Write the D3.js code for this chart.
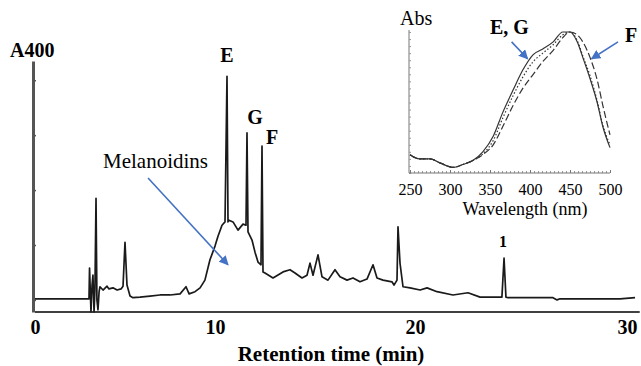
<!DOCTYPE html>
<html>
<head>
<meta charset="utf-8">
<script src="https://cdn.jsdelivr.net/npm/d3@7"></script>
<style>
    body { margin: 0; background: #fff; }
    text { font-family: "Liberation Serif", "Times New Roman", serif; }
</style>
</head>
<body>
<div id="chart"></div>
<script>
// chromatogram, A400 vs retention time (min)
const retentionTime = [0, 3.00, 3.03, 3.11, 3.17, 3.22, 3.28, 3.33, 3.39, 3.44, 3.50, 3.56, 3.61, 3.78, 4.00, 4.11,
    4.33, 4.56, 4.78, 4.89, 5.00, 5.11, 5.28, 5.44, 5.83, 6.39, 6.94, 7.50, 8.06, 8.39, 8.56, 8.89, 9.17, 9.44,
    9.72, 10.00, 10.15, 10.35, 10.50, 10.60, 10.65, 10.70, 10.90, 11.15, 11.40, 11.55, 11.60, 11.65, 11.85, 12.00,
    12.15, 12.30, 12.35, 12.40, 12.50, 12.90, 13.40, 13.75, 14.00, 14.35, 14.60, 14.75, 14.90, 15.15, 15.35, 15.65,
    16.00, 16.25, 16.60, 16.90, 17.25, 17.60, 17.90, 18.10, 18.40, 18.85, 18.95, 19.10, 19.15, 19.25, 19.40, 19.75,
    20.24, 20.57, 21.04, 21.79, 22.50, 23.07, 24.10, 24.20, 24.29, 24.39, 26.51, 26.70, 26.84, 29.67, 30.38];
const a400 = [0.02, 0.02, 0.58, -0.22, 0.27, 0.45, -0.22, 0.18, 1.85, 0.00, -0.18, 0.15, 0.24, 0.18, 0.25, 0.20,
    0.22, 0.18, 0.20, 0.25, 1.05, 0.27, 0.07, 0.04, 0.05, 0.07, 0.09, 0.09, 0.11, 0.24, 0.11, 0.15, 0.22, 0.36,
    0.73, 0.98, 1.16, 1.36, 1.42, 4.07, 1.42, 1.45, 1.42, 1.27, 1.38, 1.36, 3.04, 1.24, 1.09, 0.87,
    0.69, 0.64, 2.80, 0.51, 0.49, 0.40, 0.51, 0.55, 0.49, 0.40, 0.45, 0.67, 0.45, 0.82, 0.42, 0.36,
    0.55, 0.42, 0.36, 0.40, 0.33, 0.38, 0.64, 0.40, 0.36, 0.33, 0.27, 0.36, 1.33, 0.67, 0.24, 0.22,
    0.18, 0.22, 0.15, 0.09, 0.13, 0.05, 0.05, 0.76, 0.05, 0.04, 0.04, 0.00, 0.02, 0.02, 0.04];
const timeTicks = [0, 10, 20, 30];
const a400Ticks = [0, 1, 2, 3, 4];

const peakNames = ["E", "G", "F", "1"];
const peakTimes = [10.60, 11.60, 12.35, 24.20];
const peakTops = [4.07, 3.04, 2.80, 0.76];

// inset: absorption spectra of peaks E, G, F
const wavelength = [250, 262, 275, 288, 304, 316, 329, 341, 354, 366, 379, 391, 404, 416, 429, 441, 450, 459, 466, 475, 484, 491, 500];
const absE = [0.13, 0.10, 0.10, 0.07, 0.04, 0.06, 0.09, 0.15, 0.26, 0.43, 0.59, 0.73, 0.84, 0.88, 0.93, 1.00, 1.00, 0.93, 0.82, 0.67, 0.50, 0.33, 0.18];
const absG = [0.13, 0.10, 0.10, 0.07, 0.04, 0.06, 0.09, 0.135, 0.23, 0.39, 0.55, 0.68, 0.79, 0.85, 0.91, 0.98, 1.00, 0.94, 0.83, 0.69, 0.51, 0.34, 0.20];
const absF = [0.13, 0.10, 0.10, 0.07, 0.04, 0.06, 0.09, 0.13, 0.20, 0.33, 0.48, 0.60, 0.70, 0.79, 0.87, 0.96, 1.00, 0.98, 0.93, 0.82, 0.66, 0.48, 0.27];
const waveTicks = [250, 300, 350, 400, 450, 500];

const blue = "#4472c4";
const W = 641, H = 366;

const svg = d3.select("#chart").append("svg")
    .attr("width", W)
    .attr("height", H)
    .style("background", "#fff");

const defs = svg.append("defs");
defs.append("marker")
    .attr("id", "head")
    .attr("viewBox", "0 0 10 10")
    .attr("refX", 9).attr("refY", 5)
    .attr("markerWidth", 6).attr("markerHeight", 6)
    .attr("markerUnits", "strokeWidth")
    .attr("orient", "auto")
    .append("path")
    .attr("d", "M0,0L10,5L0,10z")
    .attr("fill", blue);

// ---------- main chromatogram ----------
// the figure's time axis is not evenly spaced, so the scale is piecewise
const x = d3.scaleLinear().domain(timeTicks).range([35, 215, 415, 627]);
const y = d3.scaleLinear().domain([-0.22, 4.35]).range([312, 61]);

const yAxis = svg.append("g")
    .attr("transform", "translate(33,0)")
    .call(d3.axisLeft(y).tickValues(a400Ticks).tickSize(-3).tickSizeOuter(0).tickFormat(""));
yAxis.select(".domain").attr("stroke", "#555").attr("stroke-width", 3);
yAxis.selectAll(".tick line").attr("stroke", "#555").attr("stroke-width", 1.5);

const xAxis = svg.append("g")
    .attr("transform", `translate(0,${y(-0.22)})`)
    .call(d3.axisBottom(x).tickValues(timeTicks).tickSize(0).tickPadding(8));
xAxis.select(".domain").remove();
xAxis.selectAll("text")
    .attr("font-family", '"Liberation Serif", serif')
    .attr("font-size", 20)
    .attr("font-weight", "bold")
    .attr("fill", "#000");
xAxis.append("line")
    .attr("x1", x(0)).attr("x2", x(30.6))
    .attr("stroke", "#000").attr("stroke-width", 1.5);

const trace = retentionTime.map((t, i) => [t, a400[i]]);
svg.append("path")
    .datum(trace)
    .attr("fill", "none")
    .attr("stroke", "#1a1a1a")
    .attr("stroke-width", 1.7)
    .attr("stroke-linejoin", "round")
    .attr("d", d3.line().x(d => x(d[0])).y(d => y(d[1])));

// peak labels
const labelDx = [0, 8, 10, -1];
const labelDy = [14, 9, 2, 11];
svg.selectAll(".peak-label")
    .data(peakNames)
    .enter().append("text")
    .attr("class", "peak-label")
    .attr("x", (d, i) => x(peakTimes[i]) + labelDx[i])
    .attr("y", (d, i) => y(peakTops[i]) - labelDy[i])
    .attr("text-anchor", "middle")
    .attr("font-weight", "bold")
    .attr("font-size", (d, i) => i === 3 ? 16 : 20)
    .text(d => d);

svg.append("text")
    .attr("x", 10).attr("y", 57)
    .attr("font-weight", "bold").attr("font-size", 20)
    .text("A400");

svg.append("text")
    .attr("x", 331).attr("y", 361)
    .attr("text-anchor", "middle")
    .attr("font-weight", "bold").attr("font-size", 21)
    .text("Retention time (min)");

svg.append("text")
    .attr("x", 103).attr("y", 168)
    .attr("font-size", 21)
    .text("Melanoidins");

svg.append("line")
    .attr("x1", x(6.28)).attr("y1", y(2.22))
    .attr("x2", x(10.65)).attr("y2", y(0.64))
    .attr("stroke", blue).attr("stroke-width", 1.6)
    .attr("marker-end", "url(#head)");

// ---------- inset spectra ----------
const xs = d3.scaleLinear().domain([250, 500]).range([410, 610]);
const ys = d3.scaleLinear().domain([0, 1]).range([173, 32]);

const inset = svg.append("g");

const insetY = inset.append("g")
    .attr("transform", "translate(409,0)")
    .call(d3.axisLeft(ys).ticks(20).tickSize(-2).tickSizeOuter(0).tickFormat(""));
insetY.select(".domain").attr("stroke", "#777").attr("d", "M0,30V173");
insetY.selectAll(".tick line").attr("stroke", "#999");

const insetXMinor = inset.append("g")
    .attr("transform", "translate(0,173)")
    .call(d3.axisBottom(xs).tickValues(d3.range(255, 500, 5)).tickSize(-2).tickSizeOuter(0).tickFormat(""));
insetXMinor.select(".domain").remove();
insetXMinor.selectAll(".tick line").attr("stroke", "#999");

const insetX = inset.append("g")
    .attr("transform", "translate(0,173)")
    .call(d3.axisBottom(xs).tickValues(waveTicks).tickSize(-3).tickSizeOuter(0).tickPadding(11));
insetX.select(".domain").attr("stroke", "#777").attr("d", "M409,0H610");
insetX.selectAll(".tick line").attr("stroke", "#777");
insetX.selectAll("text")
    .attr("font-family", '"Liberation Serif", serif')
    .attr("font-size", 16)
    .attr("fill", "#000");

const spec = d3.line().x(d => xs(d[0])).y(d => ys(d[1])).curve(d3.curveMonotoneX);
const series = [
    { values: absE, dash: null },
    { values: absG, dash: "1.5,2" },
    { values: absF, dash: "7,3" }
];
inset.selectAll(".spectrum")
    .data(series)
    .enter().append("path")
    .attr("class", "spectrum")
    .attr("fill", "none")
    .attr("stroke", "#333")
    .attr("stroke-width", 1.2)
    .attr("stroke-dasharray", d => d.dash)
    .attr("d", d => spec(wavelength.map((w, i) => [w, d.values[i]])));

inset.append("text")
    .attr("x", 400).attr("y", 25)
    .attr("font-size", 20)
    .text("Abs");

inset.append("text")
    .attr("x", 525).attr("y", 215)
    .attr("text-anchor", "middle")
    .attr("font-size", 18)
    .text("Wavelength (nm)");

inset.append("text")
    .attr("x", 490).attr("y", 34)
    .attr("font-weight", "bold").attr("font-size", 20)
    .text("E, G");

inset.append("text")
    .attr("x", 625).attr("y", 42)
    .attr("font-weight", "bold").attr("font-size", 20)
    .text("F");

inset.append("line")
    .attr("x1", xs(377)).attr("y1", ys(0.93))
    .attr("x2", xs(397)).attr("y2", ys(0.81))
    .attr("stroke", blue).attr("stroke-width", 1.6)
    .attr("marker-end", "url(#head)");

inset.append("line")
    .attr("x1", xs(510)).attr("y1", ys(0.93))
    .attr("x2", xs(477)).attr("y2", ys(0.81))
    .attr("stroke", blue).attr("stroke-width", 1.6)
    .attr("marker-end", "url(#head)");
</script>
</body>
</html>
